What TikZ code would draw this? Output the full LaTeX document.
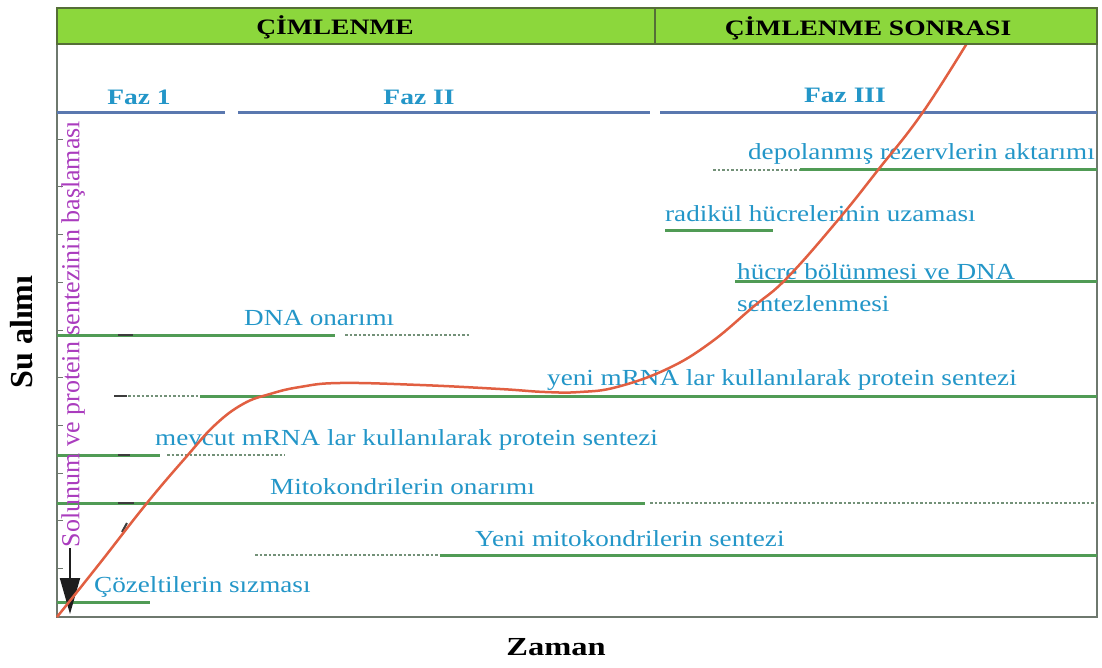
\documentclass[tikz,border=0pt]{standalone}
\usepackage{fontspec}
\setmainfont{Liberation Serif}
\usetikzlibrary{arrows.meta}
\definecolor{hdrgreen}{RGB}{140,215,60}
\definecolor{hdrborder}{RGB}{85,110,55}
\definecolor{framec}{RGB}{110,120,110}
\definecolor{phaseblue}{RGB}{90,120,175}
\definecolor{txtblue}{RGB}{35,150,200}
\definecolor{lgreen}{RGB}{80,155,85}
\definecolor{dotc}{RGB}{115,145,120}
\definecolor{curvec}{RGB}{225,95,65}
\definecolor{purp}{RGB}{170,60,190}
\definecolor{markc}{RGB}{60,60,60}
\newcommand{\sx}[1]{\scalebox{1.18}[1]{#1}}
\newcommand{\sxh}[1]{\scalebox{1.25}[1]{#1}}
\begin{document}
\begin{tikzpicture}[x=1pt,y=-1pt,
  lbl/.style={text=txtblue,font=\fontsize{23}{25}\selectfont,inner sep=0pt},
  fazlbl/.style={text=txtblue,font=\bfseries\fontsize{22}{24}\selectfont,inner sep=0pt},
  hdrlbl/.style={text=black,font=\bfseries\fontsize{22}{24}\selectfont,inner sep=0pt},
  gline/.style={draw=lgreen,line width=3pt},
  dline/.style={draw=dotc,line width=2.2pt,dash pattern=on 2.5pt off 2pt},
  bline/.style={draw=phaseblue,line width=3pt},
  smallmark/.style={draw=markc,line width=2pt},
  axtick/.style={draw=framec,line width=1pt}]
\useasboundingbox (0,0) rectangle (1102,668);
\fill[white] (0,0) rectangle (1102,668);

% frame
\draw[framec,line width=2.5pt] (57,44) -- (57,617) -- (1097,617) -- (1097,44);
\foreach \yy in {140,187,235,282,330,377,425,473,520,568}
  \draw[axtick] (57,\yy) -- (63,\yy);

% phase lines
\draw[bline] (57,113) -- (225,113);
\draw[bline] (238,113) -- (650,113);
\draw[bline] (660,113) -- (1097,113);
\node[fazlbl] (f1) at (139,97) {\sxh{Faz 1}};
\node[fazlbl] (f2) at (419,97) {\sxh{Faz II}};
\node[fazlbl] (f3) at (845,95) {\sxh{Faz III}};

% process lines
\draw[dline] (713,170) -- (800,170);
\draw[gline] (800,170) -- (1097,170);
\draw[gline] (665,231) -- (773,231);
\draw[gline] (735,281) -- (1097,281);
\draw[gline] (57,335) -- (335,335);
\draw[dline] (345,335) -- (470,335);
\draw[dline] (128,396) -- (200,396);
\draw[gline] (200,396) -- (1097,396);
\draw[gline] (57,455) -- (160,455);
\draw[dline] (167,455) -- (285,455);
\draw[gline] (57,503) -- (645,503);
\draw[dline] (650,503) -- (1097,503);
\draw[dline] (255,555) -- (440,555);
\draw[gline] (440,555) -- (1097,555);
\draw[gline] (57,602) -- (150,602);

% small dark marks
\draw[smallmark] (118,335) -- (133,335);
\draw[smallmark] (114,396) -- (127,396);
\draw[smallmark] (118,455) -- (130,455);
\draw[smallmark] (118,503) -- (134,503);
\draw[smallmark] (122,532) -- (127,523);

% labels
\node[lbl,anchor=base east] (dep) at (1095,160) {\sx{depolanmış rezervlerin aktarımı}};
\node[lbl,anchor=base west] (rad) at (665,222) {\sx{radikül hücrelerinin uzaması}};
\node[lbl,anchor=base west] (hc1) at (737,279) {\sx{hücre bölünmesi ve DNA}};
\node[lbl,anchor=base west] (hc2) at (737,311) {\sx{sentezlenmesi}};
\node[lbl,anchor=base west] (dna) at (244,325) {\sx{DNA onarımı}};
\node[lbl,anchor=base west] (ymr) at (547,385) {\sx{yeni mRNA lar kullanılarak protein sentezi}};
\node[lbl,anchor=base west] (mmr) at (155,445) {\sx{mevcut mRNA lar kullanılarak protein sentezi}};
\node[lbl,anchor=base west] (mit) at (270,494) {\sx{Mitokondrilerin onarımı}};
\node[lbl,anchor=base west] (ymt) at (475,546) {\sx{Yeni mitokondrilerin sentezi}};
\node[lbl,anchor=base west] (coz) at (94,592) {\sx{Çözeltilerin sızması}};

% axis titles
\node[font=\bfseries\fontsize{32}{34}\selectfont,rotate=90,inner sep=0pt] (sua) at (22,332) {Su alımı};
\node[font=\bfseries\fontsize{26}{28}\selectfont,inner sep=0pt] (zam) at (556,647) {\sxh{Zaman}};

% purple vertical text and arrow
\node[text=purp,font=\fontsize{26}{28}\selectfont,rotate=90,inner sep=0pt] (sol) at (73,334) {Solunum ve protein sentezinin başlaması};
\coordinate (arS) at (70,548);
\coordinate (arE) at (70,614);
\draw[markc!50!black,line width=2pt,-{Triangle[length=36pt,width=20pt]}] (arS) -- (arE);

% water uptake curve
\draw[curvec,line width=2.5pt] plot[smooth,tension=0.7] coordinates {
 (57,617) (100,563) (147,503) (187,456) (215,425) (243,404) (270,394) (300,387)
 (340,383) (420,385) (500,389) (545,392) (580,392) (617,387) (667,369)
 (710,343) (753,307) (787,278) (838,220) (878,170) (923,112) (972,35)};

% header (drawn last, covers curve end)
\draw[hdrborder,line width=2pt,fill=hdrgreen] (57,8) rectangle (1097,44);
\draw[hdrborder,line width=2pt] (655,8) -- (655,44);
\node[hdrlbl] (h1) at (335,27) {\sxh{ÇİMLENME}};
\node[hdrlbl] (h2) at (868,28) {\sxh{ÇİMLENME SONRASI}};
\end{tikzpicture}
\end{document}
